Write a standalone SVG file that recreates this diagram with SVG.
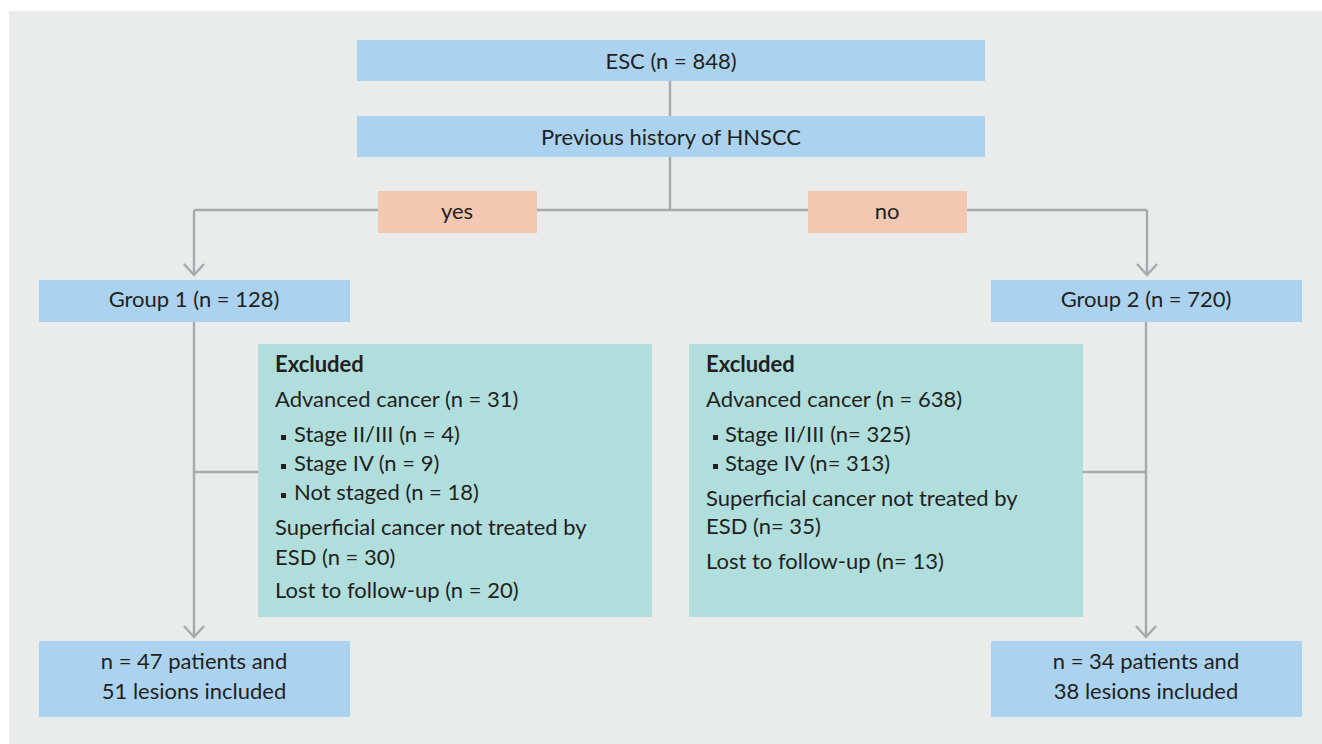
<svg xmlns="http://www.w3.org/2000/svg" width="1322" height="744" viewBox="0 0 1322 744">
<defs>
<style>
.bg{fill:#EAECEB}
.blue{fill:#ABD3EF}
.peach{fill:#F2C8B3}
.teal{fill:#B0DEDC}
.ln{stroke:#A8A9AC;stroke-width:2.4;fill:none}
text{font-family:Lato,"Liberation Sans",sans-serif;font-size:22px;fill:#231F20}
.c{text-anchor:middle}
.b{font-weight:bold}
.sq{fill:#231F20}
</style>
<marker id="arr" viewBox="0 0 14 24" refX="12" refY="12" markerWidth="14" markerHeight="24" markerUnits="userSpaceOnUse" orient="auto">
<path d="M1,2 L12,12 L1,22" fill="none" stroke="#A8A9AC" stroke-width="2.4"/>
</marker>
</defs>
<rect class="bg" x="9" y="11" width="1313" height="733"/>
<g id="connectors">
<line class="ln" x1="670" y1="81" x2="670" y2="116"/>
<line class="ln" x1="670" y1="157" x2="670" y2="210"/>
<line class="ln" x1="194" y1="210" x2="1147" y2="210"/>
<path class="ln" d="M194,210 V275" marker-end="url(#arr)"/>
<path class="ln" d="M1147,210 V275" marker-end="url(#arr)"/>
<path class="ln" d="M194,321 V637" marker-end="url(#arr)"/>
<path class="ln" d="M1146,321 V637" marker-end="url(#arr)"/>
<line class="ln" x1="194" y1="472" x2="258" y2="472"/>
<line class="ln" x1="1083" y1="472" x2="1146" y2="472"/>
</g>
<g id="esc">
<rect class="blue" x="357" y="40" width="628" height="41"/>
<text class="c" x="671" y="69">ESC (n = 848)</text>
</g>
<g id="history">
<rect class="blue" x="357" y="116" width="628" height="41"/>
<text class="c" x="671" y="145">Previous history of HNSCC</text>
</g>
<g id="yes">
<rect class="peach" x="378" y="191" width="159" height="42"/>
<text class="c" x="457" y="219">yes</text>
</g>
<g id="no">
<rect class="peach" x="808" y="191" width="159" height="42"/>
<text class="c" x="887" y="219">no</text>
</g>
<g id="group1">
<rect class="blue" x="39" y="280" width="311" height="42"/>
<text class="c" x="194" y="307">Group 1 (n = 128)</text>
</g>
<g id="group2">
<rect class="blue" x="991" y="280" width="311" height="42"/>
<text class="c" x="1146" y="307">Group 2 (n = 720)</text>
</g>
<g id="excluded1">
<rect class="teal" x="258" y="344" width="394" height="273"/>
<text class="b" x="275" y="372">Excluded</text>
<text x="275" y="407">Advanced cancer (n = 31)</text>
<rect class="sq" x="281" y="435" width="5" height="5"/>
<text x="294" y="442">Stage II/III (n = 4)</text>
<rect class="sq" x="281" y="464" width="5" height="5"/>
<text x="294" y="471">Stage IV (n = 9)</text>
<rect class="sq" x="281" y="493" width="5" height="5"/>
<text x="294" y="500">Not staged (n = 18)</text>
<text x="275" y="535">Superficial cancer not treated by</text>
<text x="275" y="565">ESD (n = 30)</text>
<text x="275" y="598">Lost to follow-up (n = 20)</text>
</g>
<g id="excluded2">
<rect class="teal" x="689" y="344" width="394" height="273"/>
<text class="b" x="706" y="372">Excluded</text>
<text x="706" y="407">Advanced cancer (n = 638)</text>
<rect class="sq" x="713" y="435" width="5" height="5"/>
<text x="725" y="442">Stage II/III (n= 325)</text>
<rect class="sq" x="713" y="464" width="5" height="5"/>
<text x="725" y="471">Stage IV (n= 313)</text>
<text x="706" y="506">Superficial cancer not treated by</text>
<text x="706" y="534">ESD (n= 35)</text>
<text x="706" y="569">Lost to follow-up (n= 13)</text>
</g>
<g id="result1">
<rect class="blue" x="39" y="641" width="311" height="76"/>
<text class="c" x="194" y="669">n = 47 patients and</text>
<text class="c" x="194" y="699">51 lesions included</text>
</g>
<g id="result2">
<rect class="blue" x="991" y="641" width="311" height="76"/>
<text class="c" x="1146" y="669">n = 34 patients and</text>
<text class="c" x="1146" y="699">38 lesions included</text>
</g>
</svg>
